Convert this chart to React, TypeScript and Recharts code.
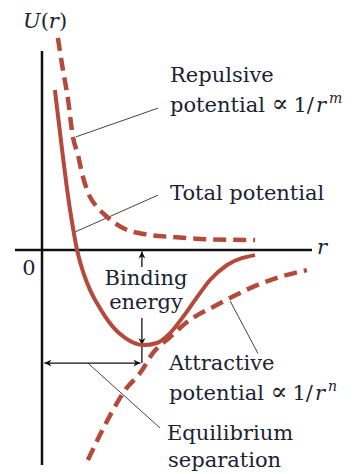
import { LineChart, Line, XAxis, YAxis, ReferenceLine } from 'recharts'

// separation r and potential U(r) (arbitrary units)
const totalR = [0.43, 0.67, 0.83, 1.0, 1.17, 1.37, 1.6, 1.83, 2.37, 2.77, 3.37, 3.83, 4.27, 4.7, 5.17, 5.6, 6.17, 7.1]
const totalU = [5.33, 3.33, 2.07, 0.93, 0.0, -0.73, -1.33, -1.77, -2.57, -2.93, -3.17, -3.1, -2.77, -2.23, -1.57, -1.0, -0.5, -0.17]

const repulsiveR = [0.53, 0.67, 0.87, 1.03, 1.2, 1.33, 1.6, 1.87, 2.17, 2.7, 3.6, 4.37, 5.27, 7.1]
const repulsiveU = [7.07, 6.17, 5.0, 3.77, 3.17, 2.57, 1.77, 1.4, 1.1, 0.73, 0.5, 0.43, 0.37, 0.33]

const attractiveR = [1.53, 1.93, 2.33, 2.77, 3.27, 3.7, 4.27, 4.93, 5.7, 6.27, 7.03, 7.83, 8.83]
const attractiveU = [-7.0, -6.17, -5.4, -4.67, -4.1, -3.43, -2.9, -2.33, -1.9, -1.6, -1.23, -0.93, -0.67]

const R_EQ = 3.33
const U_MIN = -3.17
const U_EQ_ARROW = -3.77

const CURVE = '#b34a3b'
const INK = '#1c2233'
const FONT = '"DejaVu Serif", serif'

const toRows = (rs: number[], us: number[]) => rs.map((r, i) => ({ r, u: us[i] }))

// "potential ∝ 1/r^k" label
const PowerLabel = ({ x, y, k }: { x: number; y: number; k: string }) => (
  <text x={x} y={y}>
    potential <tspan fontSize={25}>∝</tspan>
    <tspan dx={5}>1/</tspan>
    <tspan fontStyle="italic" dx={2}>r</tspan>
    <tspan fontStyle="italic" fontSize={14} dx={3} dy={-9}>{k}</tspan>
  </text>
)

export default function App() {
  const total = toRows(totalR, totalU)
  const repulsive = toRows(repulsiveR, repulsiveU)
  const attractive = toRows(attractiveR, attractiveU)

  return (
    <div style={{ position: 'absolute', left: 0, top: 0, width: 358, height: 474, background: '#fff' }}>
      <LineChart width={358} height={474} margin={{ top: 0, right: 0, bottom: 0, left: 0 }}>
        <defs>
          <marker id="ah" viewBox="0 0 10 10" refX="10" refY="5" markerWidth="9" markerHeight="7" markerUnits="userSpaceOnUse" orient="auto-start-reverse">
            <path d="M0,0 L10,5 L0,10 L3,5 Z" fill="#111" />
          </marker>
        </defs>
        <XAxis type="number" dataKey="r" domain={[-1.4, 10.5333]} hide allowDataOverflow />
        <YAxis type="number" dataKey="u" domain={[-7.4667, 8.3333]} hide allowDataOverflow />

        {/* axes */}
        <ReferenceLine segment={[{ x: 0, y: 6.63 }, { x: 0, y: -7.17 }]} stroke="#111" strokeWidth={2.5} />
        <ReferenceLine segment={[{ x: -0.9, y: 0 }, { x: 9.0, y: 0 }]} stroke="#111" strokeWidth={2.5} />

        {/* leader lines */}
        <ReferenceLine segment={[{ x: 1.13, y: 3.77 }, { x: 3.87, y: 4.73 }]} stroke="#444" strokeWidth={1} />
        <ReferenceLine segment={[{ x: 1.1, y: 0.6 }, { x: 3.87, y: 1.83 }]} stroke="#444" strokeWidth={1} />
        <ReferenceLine segment={[{ x: 6.27, y: -1.7 }, { x: 7.2, y: -3.45 }]} stroke="#444" strokeWidth={1} />
        <ReferenceLine segment={[{ x: 1.53, y: -3.77 }, { x: 3.93, y: -5.93 }]} stroke="#444" strokeWidth={1} />

        {/* binding energy and equilibrium arrows */}
        <ReferenceLine segment={[{ x: R_EQ, y: -0.57 }, { x: R_EQ, y: -0.05 }]} stroke="#111" strokeWidth={1.3} markerEnd="url(#ah)" />
        <ReferenceLine segment={[{ x: R_EQ, y: -2.27 }, { x: R_EQ, y: U_MIN }]} stroke="#111" strokeWidth={1.3} markerEnd="url(#ah)" />
        <ReferenceLine segment={[{ x: R_EQ, y: U_MIN }, { x: R_EQ, y: U_EQ_ARROW }]} stroke="#111" strokeWidth={1.3} />
        <ReferenceLine segment={[{ x: 0.08, y: U_EQ_ARROW }, { x: R_EQ - 0.05, y: U_EQ_ARROW }]} stroke="#111" strokeWidth={1.3} markerStart="url(#ah)" markerEnd="url(#ah)" />

        <Line data={repulsive} dataKey="u" type="monotone" stroke={CURVE} strokeWidth={4.5} strokeDasharray="13 7" strokeLinecap="butt" dot={false} activeDot={false} isAnimationActive={false} />
        <Line data={attractive} dataKey="u" type="monotone" stroke={CURVE} strokeWidth={4.5} strokeDasharray="13 7" strokeLinecap="butt" dot={false} activeDot={false} isAnimationActive={false} />
        <Line data={total} dataKey="u" type="monotone" stroke={CURVE} strokeWidth={4} strokeLinecap="butt" dot={false} activeDot={false} isAnimationActive={false} />

        <g fontFamily={FONT} fontSize={21} fill={INK}>
          <text x={45} y={28} textAnchor="middle"><tspan fontStyle="italic">U</tspan>(<tspan fontStyle="italic">r</tspan>)</text>
          <text x={322} y={254} textAnchor="middle" fontStyle="italic">r</text>
          <text x={29} y={275} textAnchor="middle">0</text>
          <text x={170} y={82}>Repulsive</text>
          <PowerLabel x={170} y={112} k="m" />
          <text x={170} y={200}>Total potential</text>
          <text x={146} y={285} textAnchor="middle">Binding</text>
          <text x={146} y={309} textAnchor="middle">energy</text>
          <text x={169} y={370}>Attractive</text>
          <PowerLabel x={169} y={400} k="n" />
          <text x={167} y={440}>Equilibrium</text>
          <text x={168} y={467}>separation</text>
        </g>
      </LineChart>
    </div>
  )
}
